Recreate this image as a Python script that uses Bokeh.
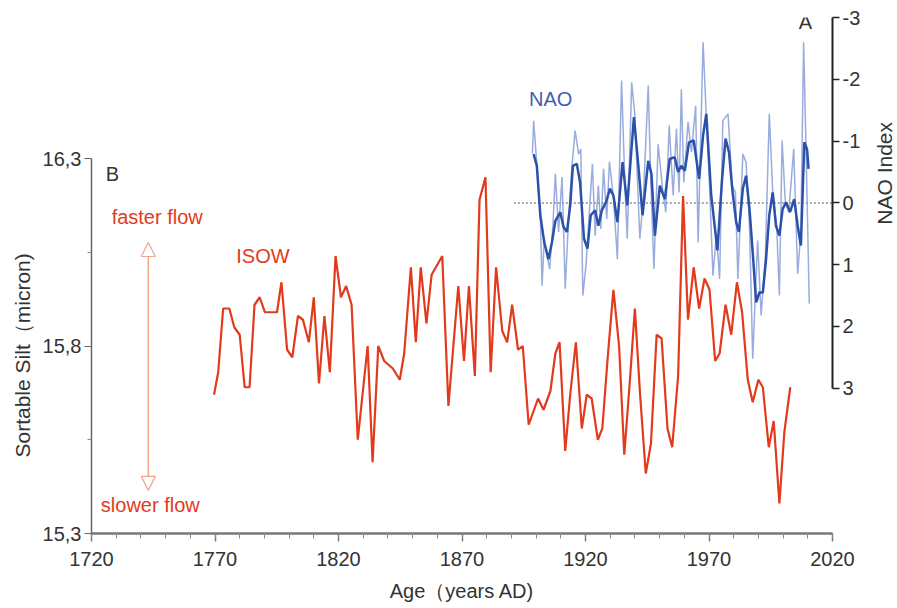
from math import pi
from bokeh.plotting import figure
from bokeh.layouts import row
from bokeh.models import (Range1d, LinearAxis, FixedTicker, Label, Arrow, NormalHead, Title)
from bokeh.embed import file_html
from bokeh.resources import INLINE

# ---------------- data ----------------
isow_year = [1769.6, 1771.3, 1773.3, 1775.8, 1777.8, 1780.0, 1782.0, 1784.0, 1786.0, 1788.1,
             1790.2, 1795.1, 1796.9, 1799.2, 1801.3, 1803.6, 1805.6, 1808.0, 1810.0, 1812.1,
             1814.3, 1816.5, 1818.8, 1821.0, 1823.1, 1825.3, 1827.8, 1831.8, 1833.8, 1836.1,
             1838.5, 1842.0, 1844.8, 1846.6, 1849.3, 1851.3, 1853.3, 1855.6, 1857.7, 1862.0,
             1864.5, 1868.5, 1870.8, 1872.8, 1875.2, 1877.1, 1879.5, 1881.6, 1883.8, 1886.3,
             1888.3, 1890.3, 1892.7, 1894.6, 1897.0, 1900.8, 1903.0, 1905.8, 1907.8, 1909.5,
             1911.8, 1913.8, 1916.1, 1918.5, 1920.5, 1922.5, 1925.0, 1926.8, 1929.0, 1931.3,
             1933.6, 1935.7, 1938.0, 1940.0, 1942.0, 1944.4, 1946.5, 1948.8, 1950.8, 1953.2,
             1955.1, 1957.5, 1959.5, 1961.5, 1963.8, 1966.0, 1968.2, 1970.2, 1972.5, 1974.3,
             1976.7, 1979.0, 1981.3, 1983.4, 1985.7, 1987.7, 1990.0, 1991.8, 1994.2, 1996.2,
             1998.5, 2000.5, 2002.9]
isow_silt = [15.67, 15.73, 15.90, 15.90, 15.85, 15.83, 15.69, 15.69, 15.91, 15.93,
             15.89, 15.89, 15.97, 15.79, 15.77, 15.88, 15.87, 15.81, 15.93, 15.70,
             15.88, 15.73, 16.04, 15.93, 15.96, 15.91, 15.55, 15.80, 15.49, 15.80,
             15.76, 15.74, 15.71, 15.78, 16.01, 15.81, 16.01, 15.86, 15.99, 16.04,
             15.64, 15.96, 15.76, 15.96, 15.72, 16.19, 16.25, 15.73, 16.01, 15.84,
             15.81, 15.91, 15.79, 15.80, 15.59, 15.66, 15.63, 15.68, 15.78, 15.81,
             15.52, 15.67, 15.81, 15.58, 15.67, 15.66, 15.55, 15.58, 15.77, 15.95,
             15.80, 15.51, 15.71, 15.90, 15.68, 15.46, 15.54, 15.83, 15.82, 15.58,
             15.53, 15.72, 16.20, 15.87, 16.01, 15.90, 15.98, 15.95, 15.76, 15.78,
             15.91, 15.83, 15.97, 15.89, 15.71, 15.65, 15.71, 15.69, 15.53, 15.60,
             15.38, 15.57, 15.69]

nao_year = [1898.5, 1899.0, 1900.0, 1900.7, 1901.7, 1902.4, 1903.3, 1904.4, 1905.5, 1906.8,
            1907.8, 1909.1, 1910.5, 1911.8, 1913.1, 1914.5, 1915.8, 1917.2, 1918.1, 1918.9,
            1920.2, 1921.2, 1922.8, 1923.9, 1925.2, 1926.2, 1927.3, 1928.6, 1929.7, 1931.3,
            1932.9, 1934.6, 1936.0, 1936.9, 1938.7, 1940.0, 1940.9, 1942.0, 1943.4, 1945.4,
            1946.3, 1947.7, 1949.4, 1951.2, 1952.5, 1953.9, 1955.5, 1956.8, 1957.9, 1958.8,
            1959.8, 1961.5, 1962.9, 1964.6, 1965.6, 1967.6, 1968.9, 1970.3, 1971.6, 1973.0,
            1974.3, 1975.6, 1977.7, 1979.4, 1980.7, 1981.7, 1983.7, 1985.0, 1986.4, 1987.7,
            1988.8, 1989.7, 1991.1, 1992.8, 1994.4, 1995.8, 1997.4, 1998.5, 1999.6, 2000.9,
            2002.3, 2004.3, 2005.9, 2007.2, 2008.3, 2009.2, 2010.6]
nao_annual = [-0.80, -1.33, -0.79, -0.39, 0.15, 1.34, 0.58, 0.85, 1.07, 0.37,
              -0.47, 0.47, -0.42, 1.39, 0.29, -0.60, -1.17, -0.79, -0.87, 1.50,
              1.01, 0.37, -0.63, 0.53, -0.28, 0.42, -0.55, 0.26, -0.67, -0.10,
              0.91, -1.98, -0.23, 0.58, -1.95, -1.41, -0.50, 0.58, -0.06, -1.90,
              -0.55, 1.07, -0.95, -0.23, 0.15, -1.25, -0.12, -1.20, -0.17, -1.84,
              -0.33, -1.31, -0.82, -1.57, 0.64, -2.60, -1.41, -0.20, 1.18, 0.50,
              1.23, -1.33, -1.44, -0.28, -0.17, 1.23, -0.79, -0.66, 0.37, 2.52,
              1.45, 0.61, 1.82, 0.88, -1.44, -0.17, 0.37, 1.50, -1.01, -0.01,
              0.15, -0.87, 1.15, 0.47, -2.60, -1.04, 1.63]

nao_smooth_year = [1899.0, 1900.3, 1901.7, 1903.3, 1905.0, 1906.4, 1907.8, 1909.8, 1911.1, 1912.5,
                   1913.8, 1914.9, 1916.5, 1917.8, 1919.4, 1920.8, 1922.1, 1923.9, 1925.2, 1926.6,
                   1928.3, 1929.9, 1931.3, 1932.9, 1935.0, 1936.9, 1939.6, 1941.4, 1943.1, 1945.4,
                   1946.7, 1948.1, 1950.1, 1952.1, 1954.1, 1956.1, 1957.5, 1958.8, 1960.2, 1961.9,
                   1963.8, 1966.0, 1967.6, 1968.9, 1970.9, 1973.4, 1975.3, 1976.7, 1978.1, 1979.4,
                   1981.0, 1982.1, 1983.7, 1985.0, 1986.4, 1987.7, 1989.1, 1990.4, 1991.8, 1993.1,
                   1994.4, 1995.8, 1997.1, 1998.5, 1999.8, 2001.2, 2002.8, 2004.5, 2005.9, 2007.2,
                   2008.6, 2009.7, 2010.3]
nao_smooth = [-0.79, -0.60, 0.20, 0.64, 0.91, 0.64, 0.29, 0.15, 0.39, 0.47,
              0.04, -0.60, -0.63, -0.33, 0.58, 0.74, 0.20, 0.12, 0.37, 0.12,
              -0.01, -0.23, -0.12, 0.31, -0.66, 0.04, -1.39, -0.60, 0.20, -0.68,
              -0.47, 0.53, -0.28, -0.06, -0.71, -0.74, -0.50, -0.60, -0.52, -0.98,
              -1.01, -0.39, -1.09, -1.44, -0.12, 0.77, -0.39, -1.04, -0.82, -0.23,
              0.31, 0.47, -0.23, -0.44, 0.10, 0.80, 1.61, 1.45, 1.45, 0.91,
              0.20, -0.17, 0.37, 0.53, 0.10, -0.01, 0.15, -0.06, 0.37, 0.69,
              -0.98, -0.87, -0.55]

zero_x = [1891, 2020]
zero_y = [0, 0]

x_ticks = [1720, 1770, 1820, 1870, 1920, 1970, 2020]
x_minor = list(range(1720, 2021, 10))
silt_ticks = [15.3, 15.8, 16.3]
silt_tick_labels = ["15,3", "15,8", "16,3"]
silt_minor = [15.55, 16.05]
nao_ticks = [-3, -2, -1, 0, 1, 2, 3]
nao_tick_labels = ["-3", "-2", "-1", "0", "1", "2", "3"]

FONT = "Liberation Sans"
RED = "#e23a1c"
BLUE_T = "#7f97d4"
BLUE = "#2b51a9"
GREY_TXT = "#333333"
FS = "20px"

H = 606
FRAME_L, FRAME_B = 91, 533
MAIN_W = 863

p = figure(width=MAIN_W, height=H, output_backend="svg", toolbar_location=None,
           x_range=Range1d(1720, 2020), y_range=Range1d(15.3, 16.676),
           min_border_left=FRAME_L, min_border_right=MAIN_W - 835, min_border_top=17,
           min_border_bottom=H - FRAME_B)
p.extra_y_ranges = {"nao": Range1d(start=5.35, end=-3)}
p.grid.visible = False
p.outline_line_color = None
p.background_fill_color = "white"
p.border_fill_color = "white"

# bottom axis
xa = p.xaxis[0]
xa.ticker = FixedTicker(ticks=x_ticks, minor_ticks=x_minor)
xa.axis_line_color = "#777777"
xa.axis_line_width = 2.5
xa.major_tick_line_color = "#777777"
xa.minor_tick_line_color = "#888888"
xa.major_tick_line_width = 1.5
xa.minor_tick_line_width = 1
xa.major_tick_out = 8
xa.major_tick_in = 0
xa.minor_tick_out = 5
xa.minor_tick_in = 0
xa.major_label_text_font = FONT
xa.major_label_text_font_size = FS
xa.major_label_text_color = GREY_TXT
xa.major_label_standoff = 10
xa.axis_label = "Age（years AD)"
xa.axis_label_text_font = FONT
xa.axis_label_text_font_size = FS
xa.axis_label_text_font_style = "normal"
xa.axis_label_text_color = GREY_TXT
xa.axis_label_standoff = 11

# left axis
ya = p.yaxis[0]
ya.bounds = (15.3, 16.3)
ya.ticker = FixedTicker(ticks=silt_ticks, minor_ticks=silt_minor)
ya.major_label_overrides = dict(zip(silt_ticks, silt_tick_labels))
ya.axis_line_color = "#666666"
ya.axis_line_width = 1.5
ya.major_tick_line_color = "#666666"
ya.minor_tick_line_color = "#888888"
ya.major_tick_out = 7
ya.major_tick_in = 0
ya.minor_tick_out = 4
ya.minor_tick_in = 0
ya.major_label_text_font = FONT
ya.major_label_text_font_size = FS
ya.major_label_text_color = GREY_TXT
ya.major_label_standoff = 3

p.add_layout(Title(text="Sortable Silt（micron)", align="left", offset=76,
                   text_font=FONT, text_font_size="21px", text_font_style="normal",
                   text_color=GREY_TXT, standoff=12), "left")

# right axis (NAO)
ra = LinearAxis(y_range_name="nao", bounds=(-3, 3),
                ticker=FixedTicker(ticks=nao_ticks, minor_ticks=[]))
ra.major_label_overrides = dict(zip(nao_ticks, nao_tick_labels))
ra.axis_line_color = "#222222"
ra.axis_line_width = 2
ra.major_tick_line_color = "#222222"
ra.major_tick_line_width = 1.5
ra.major_tick_out = 7
ra.major_tick_in = 0
ra.minor_tick_out = 0
ra.major_label_text_font = FONT
ra.major_label_text_font_size = FS
ra.major_label_text_color = GREY_TXT
ra.major_label_standoff = 3
p.add_layout(ra, "right")

# data lines
p.line(zero_x, zero_y, y_range_name="nao", line_color="#8a8a8a", line_width=1.5,
       line_dash="2 2")
p.line(nao_year, nao_annual, y_range_name="nao", line_color=BLUE_T, line_width=1.5,
       line_alpha=0.8)
p.line(nao_smooth_year, nao_smooth, y_range_name="nao", line_color=BLUE, line_width=2.5)
p.line(isow_year, isow_silt, line_color=RED, line_width=2.2)

# flow arrow
ARROW_C = "#f0a58c"
p.add_layout(Arrow(x_start=1743, y_start=15.415, x_end=1743, y_end=16.076,
                   line_color=ARROW_C, line_width=1.5,
                   start=NormalHead(size=14, fill_color="white", line_color=ARROW_C, line_width=1.2),
                   end=NormalHead(size=14, fill_color="white", line_color=ARROW_C, line_width=1.2)))

def lab(x, y, text, color=GREY_TXT, size=FS, angle=0.0, rng="default"):
    p.add_layout(Label(x=x, y=y, text=text, text_color=color, text_font=FONT,
                       text_font_size=size, text_align="center", text_baseline="middle",
                       angle=angle, y_range_name=rng))

lab(1728.5, 16.26, "B")
lab(2009.0, -2.93, "A", rng="nao")
lab(1746.6, 16.145, "faster flow", color=RED)
lab(1743.8, 15.375, "slower flow", color=RED)
lab(1789.4, 16.04, "ISOW", color=RED)
lab(1905.9, -1.68, "NAO", color="#3d5fae", rng="nao")

# narrow strip on the right that carries the NAO axis title
SIDE_W = 34
q = figure(width=SIDE_W, height=H, output_backend="svg", toolbar_location=None,
           x_range=Range1d(0, SIDE_W), y_range=Range1d(0, H),
           x_axis_location=None, y_axis_location=None, min_border=0)
q.grid.visible = False
q.outline_line_color = None
q.add_layout(Label(x=884 - MAIN_W, y=H - 183, text="NAO Index", text_color=GREY_TXT,
                   text_font=FONT, text_font_size="21px", text_align="center",
                   text_baseline="middle", angle=pi / 2))

layout = row(p, q)
open("out.html", "w").write(file_html(layout, INLINE))
